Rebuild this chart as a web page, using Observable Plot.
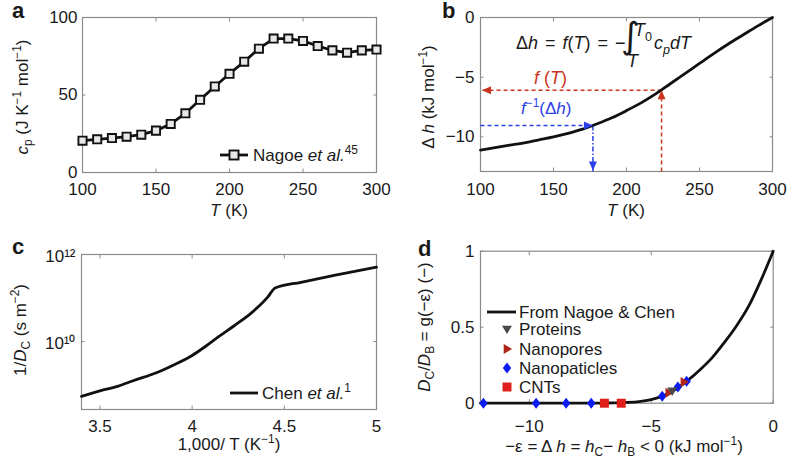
<!DOCTYPE html>
<html><head><meta charset="utf-8">
<script src="https://cdn.jsdelivr.net/npm/d3@7"></script>
<script src="https://cdn.jsdelivr.net/npm/@observablehq/plot@0.6"></script>
<style>
html,body{margin:0;padding:0;background:#fff;}
#fig{position:relative;width:788px;height:467px;overflow:hidden;font-family:"Liberation Sans",Arial,sans-serif;color:#1a1a1a;}
.panel{position:absolute;}
.lab{position:absolute;white-space:nowrap;font-size:17px;line-height:17px;}
.rot{transform:translate(-50%,-50%) rotate(-90deg);}
.ctr{transform:translate(-50%,-50%);}
sub,sup{font-size:0.7em;line-height:0;}
.pl{position:absolute;font-weight:bold;font-size:22px;line-height:16px;}
</style></head><body><div id="fig"></div>
<script>
// ---------- data ----------
const tempA = [100,110,120,130,140,150,160,170,180,190,200,210,220,230,240,250,260,270,280,290,300];
const cpA   = [20.5,21.4,22.2,23.1,24.4,27.0,31.3,38.2,46.9,55.5,63.7,71.5,79.9,86.4,86.4,84.9,81.6,78.8,77.3,78.8,79.3];
const tempB = [100,110,120,130,140,150,160,170,180,190,200,210,220,230,240,250,260,270,280,290,300];
const dhB   = [-11.1,-10.9,-10.7,-10.5,-10.25,-10.0,-9.7,-9.35,-8.9,-8.4,-7.8,-7.15,-6.4,-5.55,-4.7,-3.85,-3.0,-2.2,-1.45,-0.7,0];
const redArrowT = 224, redArrowDh = -6.1;
const blueArrowT = 177, blueArrowDh = -9.05;
const invT  = [3.40,3.50,3.60,3.68,3.81,3.90,4.00,4.07,4.14,4.23,4.32,4.41,4.45,4.59,4.77,5.00];
const invDc = [5.5e8,7.4e8,9.5e8,1.26e9,1.95e9,2.9e9,4.8e9,7.6e9,1.26e10,2.34e10,4.5e10,1.05e11,1.7e11,2.3e11,3.3e11,5.1e11];
const epsD  = [-12,-8,-7,-6.5,-6,-5.5,-5,-4.5,-4,-3.5,-3,-2.5,-2,-1.5,-1,-0.5,0];
const gD    = [0,0,0.001,0.002,0.005,0.011,0.024,0.048,0.092,0.15,0.22,0.30,0.40,0.51,0.64,0.81,1.0];
const proteinsX = [-4.14], proteinsY = [0.081];
const nanoporesX = [-4.28,-3.66], nanoporesY = [0.068,0.14];
const particlesX = [-11.88,-9.72,-8.49,-7.46,-4.55,-3.91,-3.55], particlesY = [0,0,0,0,0.046,0.107,0.145];
const cntsX = [-6.92,-6.23], cntsY = [0,0];
const ticksA_x = [100,150,200,250,300], ticksA_y = [0,50,100];
const ticksB_y = [-10,-5,0];
const ticksC_x = [3.5,4,4.5,5], ticksC_y = [1e10,1e12];
const ticksD_x = [-10,-5,0], ticksD_y = [0,0.5,1];

// ---------- helpers ----------
const fig = document.getElementById("fig");
const NS = "http://www.w3.org/2000/svg";
const GRAY = "#8a8a8a", INK = "#1a1a1a";
const RED = "#c8361e", BLUE = "#2b3fe6";
const fmt = d => d < 0 ? "\u2212" + (-d) : String(d);
const SUP = {"0":"\u2070","1":"\u00b9","2":"\u00b2","3":"\u00b3","4":"\u2074","5":"\u2075","6":"\u2076","7":"\u2077","8":"\u2078","9":"\u2079"};
const powFmt = d => "10" + String(Math.round(Math.log10(d))).split("").map(c => SUP[c]).join("");
const style = {fontFamily:"'Liberation Sans',Arial,sans-serif", fontSize:"17px", color:INK, background:"transparent", overflow:"visible"};
function inTicks(xt, yt){
  const o = {tickSize:3.5, fill:"none", stroke:GRAY, strokeWidth:1, label:null};
  return [
    Plot.axisX(xt, {...o, anchor:"bottom", dy:-3.5}),
    Plot.axisX(xt, {...o, anchor:"top", dy:3.5}),
    Plot.axisY(yt, {...o, anchor:"left", dx:3.5}),
    Plot.axisY(yt, {...o, anchor:"right", dx:-3.5})
  ];
}
function put(svg, left, top){
  const d = document.createElement("div"); d.className="panel";
  d.style.left=left+"px"; d.style.top=top+"px"; d.appendChild(svg); fig.appendChild(d);
}
function lab(html, x, y, cls, extra){
  const d=document.createElement("div"); d.className="lab "+(cls||"");
  d.innerHTML=html; d.style.left=x+"px"; d.style.top=y+"px";
  if (extra) Object.assign(d.style, extra);
  fig.appendChild(d);
  return d;
}
function txt(html, x, base, extra){ return lab(html, x, base-14.4, "", extra); }
function panelLetter(ch, x, base){
  const d=document.createElement("div"); d.className="pl"; d.textContent=ch;
  d.style.left=x+"px"; d.style.top=(base-15.6)+"px"; fig.appendChild(d);
}
const sym = pts => ({draw(c){ c.moveTo(pts[0][0],pts[0][1]); for (let i=1;i<pts.length;i++) c.lineTo(pts[i][0],pts[i][1]); c.closePath(); }});
const headUp = sym([[0,0],[-4,9],[4,9]]);
const headDown = sym([[0,0],[-4,-9],[4,-9]]);
const headLeft = sym([[0,0],[9,-4],[9,4]]);
const headRight = sym([[0,0],[-9,-4],[-9,4]]);
const triDown = sym([[-5,-3.3],[5,-3.3],[0,5]]);
const triRight = sym([[-3.3,-5],[-3.3,5],[5,0]]);
const diamond = sym([[0,-5.5],[4.2,0],[0,5.5],[-4.2,0]]);
const square = sym([[-4.5,-4.5],[4.5,-4.5],[4.5,4.5],[-4.5,4.5]]);

// ---------- panel a ----------
const dataA = tempA.map((t,i)=>({t, cp:cpA[i]}));
put(Plot.plot({
  width:394, height:230, marginLeft:82, marginRight:18, marginTop:17, marginBottom:58, style,
  x:{domain:[100,300], label:null}, y:{domain:[0,100], label:null},
  marks:[
    ...inTicks(ticksA_x, ticksA_y),
    Plot.frame({stroke:GRAY, strokeWidth:1.2}),
    Plot.axisX(ticksA_x, {anchor:"bottom", tickSize:0, tickPadding:10, tickFormat:fmt, label:null}),
    Plot.axisY(ticksA_y, {anchor:"left", tickSize:0, tickPadding:5, tickFormat:fmt, label:null}),
    Plot.line(dataA, {x:"t", y:"cp", stroke:"#111", strokeWidth:2.8}),
    Plot.dot(dataA, {x:"t", y:"cp", symbol:"square", r:4.6, stroke:"#111", strokeWidth:1.9, fill:"#e8e8e8"})
  ]
}), 0, 0);

// ---------- panel b ----------
const dataB = tempB.map((t,i)=>({t, dh:dhB[i]}));
const bBottom = -12.9;
put(Plot.plot({
  width:394, height:230, marginLeft:86, marginRight:16, marginTop:17, marginBottom:59, style,
  x:{domain:[100,300], label:null}, y:{domain:[bBottom,0], label:null},
  marks:[
    ...inTicks(ticksA_x, ticksB_y),
    Plot.frame({stroke:GRAY, strokeWidth:1.2}),
    Plot.axisX(ticksA_x, {anchor:"bottom", tickSize:0, tickPadding:11, tickFormat:fmt, label:null}),
    Plot.axisY(ticksB_y, {anchor:"left", tickSize:0, tickPadding:6, tickFormat:fmt, label:null}),
    Plot.link([0], {x1:()=>redArrowT, y1:()=>redArrowDh, x2:()=>100, y2:()=>redArrowDh, stroke:RED, strokeWidth:1.5, strokeDasharray:"4,3"}),
    Plot.link([0], {x1:()=>redArrowT, y1:()=>bBottom, x2:()=>redArrowT, y2:()=>redArrowDh, stroke:RED, strokeWidth:1.5, strokeDasharray:"4,3"}),
    Plot.link([0], {x1:()=>100, y1:()=>blueArrowDh, x2:()=>blueArrowT, y2:()=>blueArrowDh, stroke:BLUE, strokeWidth:1.5, strokeDasharray:"4,3"}),
    Plot.link([0], {x1:()=>blueArrowT, y1:()=>blueArrowDh, x2:()=>blueArrowT, y2:()=>bBottom, stroke:BLUE, strokeWidth:1.5, strokeDasharray:"5,2,1.5,2"}),
    Plot.line(dataB, {x:"t", y:"dh", stroke:"#111", strokeWidth:2.8, curve:"monotone-x"}),
    Plot.dot([0], {x:()=>100, y:()=>redArrowDh, symbol:headLeft, fill:RED, stroke:"none", dx:1.5}),
    Plot.dot([0], {x:()=>redArrowT, y:()=>redArrowDh, symbol:headUp, fill:RED, stroke:"none"}),
    Plot.dot([0], {x:()=>blueArrowT, y:()=>blueArrowDh, symbol:headRight, fill:BLUE, stroke:"none"}),
    Plot.dot([0], {x:()=>blueArrowT, y:()=>bBottom, symbol:headDown, fill:BLUE, stroke:"none", dy:-1})
  ]
}), 394, 0);

// ---------- panel c ----------
const dataC = invT.map((v,i)=>({v, d:invDc[i]}));
put(Plot.plot({
  width:394, height:237, marginLeft:81, marginRight:18, marginTop:24, marginBottom:58, style,
  x:{domain:[3.4,5], label:null}, y:{type:"log", domain:[Math.pow(10,8.44),1e12], label:null},
  marks:[
    ...inTicks(ticksC_x, ticksC_y),
    Plot.frame({stroke:GRAY, strokeWidth:1.2}),
    Plot.axisX(ticksC_x, {anchor:"bottom", tickSize:0, tickPadding:10, tickFormat:fmt, label:null}),
    Plot.axisY(ticksC_y, {anchor:"left", tickSize:0, tickPadding:6, tickFormat:powFmt, label:null, dy:2}),
    Plot.line(dataC, {x:"v", y:"d", stroke:"#111", strokeWidth:2.8, curve:"monotone-x"})
  ]
}), 0, 230);

// ---------- panel d ----------
const dataD = epsD.map((e,i)=>({e, g:gD[i]}));
const pts = (xs, ys) => xs.map((x,i)=>({x, y:ys[i]}));
put(Plot.plot({
  width:394, height:237, marginLeft:86, marginRight:15.3, marginTop:20.7, marginBottom:64.3, style,
  x:{domain:[-12,0], label:null}, y:{domain:[0,1], label:null},
  marks:[
    ...inTicks(ticksD_x, ticksD_y),
    Plot.frame({stroke:GRAY, strokeWidth:1.2}),
    Plot.axisX(ticksD_x, {anchor:"bottom", tickSize:0, tickPadding:17, tickFormat:fmt, label:null}),
    Plot.axisY(ticksD_y, {anchor:"left", tickSize:0, tickPadding:6, tickFormat:fmt, label:null}),
    Plot.line(dataD, {x:"e", y:"g", stroke:"#111", strokeWidth:2.8, curve:"monotone-x"}),
    Plot.dot(pts(particlesX, particlesY), {x:"x", y:"y", symbol:diamond, fill:"#0a1af0", stroke:"none"}),
    Plot.dot(pts(cntsX, cntsY), {x:"x", y:"y", symbol:square, fill:"#e0201a", stroke:"none"}),
    Plot.dot(pts(nanoporesX, nanoporesY), {x:"x", y:"y", symbol:triRight, fill:"#b0261a", stroke:"none"}),
    Plot.dot(pts(proteinsX, proteinsY), {x:"x", y:"y", symbol:triDown, fill:"#4a4a4a", stroke:"none"})
  ]
}), 394, 230);

// ---------- text overlays ----------
panelLetter("a", 12, 19);
panelLetter("b", 442, 19);
panelLetter("c", 12, 255);
panelLetter("d", 418, 257);

lab("<i>c</i><sub>p</sub> (J K<sup>\u22121</sup> mol<sup>\u22121</sup>)", 22, 97, "rot");
lab("<i>T</i> (K)", 229, 210, "ctr");
lab("\u0394 <i>h</i> (kJ mol<sup>\u22121</sup>)", 428, 97, "rot");
lab("<i>T</i> (K)", 626, 210, "ctr");
lab("1/<i>D</i><sub>C</sub> (s m<sup>\u22122</sup>)", 20, 330, "rot");
lab("1,000/ T (K<sup>\u22121</sup>)", 229, 444, "ctr");
lab("<i>D</i><sub>C</sub>/<i>D</i><sub>B</sub> = g(\u2212\u03b5) (\u2212)", 424, 327, "rot");
lab("\u2212\u03b5 = \u0394 <i>h</i> = <i>h</i><sub>C</sub>\u2212 <i>h</i><sub>B</sub> &lt; 0 (kJ mol<sup>\u22121</sup>)", 624, 446, "ctr");

// legend a
(function(){
  const s = document.createElementNS(NS,"svg");
  s.setAttribute("width","34"); s.setAttribute("height","16");
  s.style.cssText="position:absolute;left:218px;top:147px";
  s.innerHTML = '<line x1="2" y1="8" x2="30" y2="8" stroke="#111" stroke-width="2.8"/><rect x="11.5" y="3.5" width="9" height="9" fill="#e8e8e8" stroke="#111" stroke-width="1.9"/>';
  fig.appendChild(s);
})();
txt("Nagoe <i>et al.</i><sup>45</sup>", 253, 161);

// legend c
(function(){
  const s = document.createElementNS(NS,"svg");
  s.setAttribute("width","34"); s.setAttribute("height","14");
  s.style.cssText="position:absolute;left:228px;top:386px";
  s.innerHTML = '<line x1="2" y1="7" x2="30" y2="7" stroke="#111" stroke-width="2.8"/>';
  fig.appendChild(s);
})();
txt("Chen <i>et al.</i><sup>1</sup>", 262, 399);

// legend d
(function(){
  const s = document.createElementNS(NS,"svg");
  s.setAttribute("width","40"); s.setAttribute("height","100");
  s.style.cssText="position:absolute;left:482px;top:300px";
  const cx = 25;
  s.innerHTML =
    '<line x1="5" y1="12" x2="34" y2="12" stroke="#111" stroke-width="2.8"/>' +
    `<path transform="translate(${cx},29)" d="M-5,-3.3L5,-3.3L0,5Z" fill="#4a4a4a"/>` +
    `<path transform="translate(${cx},49)" d="M-3.3,-5L-3.3,5L5,0Z" fill="#b0261a"/>` +
    `<path transform="translate(${cx},68)" d="M0,-5.5L4.2,0L0,5.5L-4.2,0Z" fill="#0a1af0"/>` +
    `<path transform="translate(${cx},87)" d="M-4.5,-4.5h9v9h-9Z" fill="#e0201a"/>`;
  fig.appendChild(s);
})();
txt("From Nagoe &amp; Chen", 519, 318);
txt("Proteins", 519, 335);
txt("Nanopores", 519, 355);
txt("Nanopaticles", 519, 374);
txt("CNTs", 519, 393);

// formula in b
txt("\u0394<i>h</i> = <i>f</i>(<i>T</i>) = \u2212", 516, 49, {fontSize:"18px", wordSpacing:"2px"});
lab("\u222b", 621, 18, "", {fontSize:"36px", lineHeight:"36px", fontFamily:"'DejaVu Sans',sans-serif", width:"9px", overflow:"visible"});
txt("<i>T</i><sub>0</sub>", 634, 36, {fontSize:"18px"});
txt("<i>T</i>", 627, 67, {fontSize:"18px"});
txt("<i>c<sub>p</sub>dT</i>", 654, 49, {fontSize:"18px"});
txt("<i>f</i> (<i>T</i>)", 534, 84, {color:RED, fontSize:"18px"});
txt("<i>f</i><sup>\u22121</sup>(\u0394<i>h</i>)", 521, 114, {color:BLUE});
</script></body></html>
